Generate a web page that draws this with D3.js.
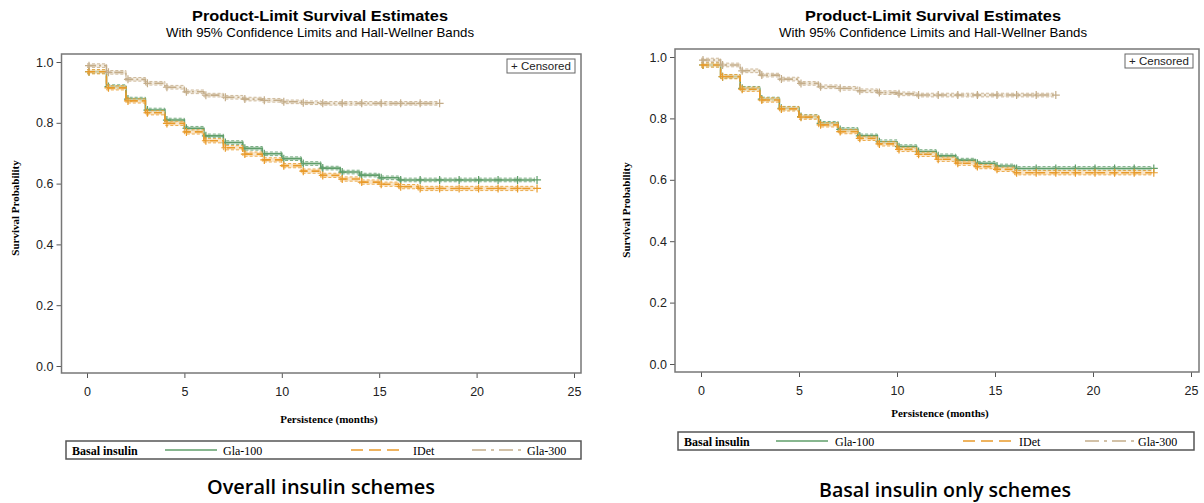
<!DOCTYPE html>
<html>
<head>
<meta charset="utf-8">
<script src="https://cdn.jsdelivr.net/npm/d3@7"></script>
<style>
  body { margin: 0; background: #fff; }
  svg { display: block; }
</style>
</head>
<body>
<svg id="chart" width="1204" height="503"></svg>
<script>
// survival estimate per month interval [k, k+1)
var overallGla100 = [0.968,0.919,0.878,0.842,0.809,0.782,0.757,0.735,0.716,0.698,0.682,0.666,0.651,0.638,0.628,0.619,0.612,0.612,0.612,0.612,0.612,0.612,0.612];
var overallIDet   = [0.968,0.915,0.872,0.833,0.798,0.770,0.741,0.718,0.697,0.678,0.659,0.641,0.627,0.615,0.605,0.598,0.590,0.584,0.584,0.584,0.584,0.584,0.584];
var overallGla300 = [0.988,0.966,0.943,0.930,0.917,0.902,0.891,0.884,0.878,0.874,0.869,0.866,0.864,0.864,0.864,0.864,0.864,0.864];

var basalGla100 = [0.974,0.936,0.898,0.863,0.833,0.806,0.784,0.764,0.743,0.724,0.708,0.692,0.678,0.664,0.654,0.645,0.637,0.637,0.637,0.637,0.637,0.637,0.637];
var basalIDet   = [0.974,0.936,0.895,0.860,0.831,0.804,0.779,0.757,0.735,0.717,0.699,0.683,0.667,0.654,0.643,0.634,0.623,0.623,0.623,0.623,0.623,0.623,0.623];
var basalGla300 = [0.990,0.974,0.955,0.941,0.928,0.914,0.903,0.898,0.890,0.884,0.880,0.876,0.876,0.876,0.876,0.876,0.876,0.876];

// half width of the confidence limits for Gla-100, IDet, Gla-300
var ciHalf = [0.006, 0.007, 0.006];

var seriesNames = ["Gla-100", "IDet", "Gla-300"];
var seriesColors = ["#5f9e6a", "#e99b2b", "#c4ad8a"];
var seriesFill = ["#cfe3d2", "#f8dcb2", "#ece2d2"];
var seriesDash = [null, "8,4", "9,3,2,3"];

var xTicks = [0, 5, 10, 15, 20, 25];
var yTicks = [0.0, 0.2, 0.4, 0.6, 0.8, 1.0];

var svg = d3.select("#chart");

function drawPanel(p) {
        var x = d3.scaleLinear().domain([0, 25]).range([p.x0, p.x25]);
        var y = d3.scaleLinear().domain([0, 1]).range([p.y0, p.y1]);
        var g = svg.append("g");

        // titles
        g.append("text").attr("x", p.cx).attr("y", 21)
                .attr("text-anchor", "middle")
                .attr("textLength", 256).attr("lengthAdjust", "spacingAndGlyphs")
                .style("font", "bold 15px 'Liberation Sans', Arial, sans-serif")
                .text("Product-Limit Survival Estimates");
        g.append("text").attr("x", p.cx).attr("y", 36.5)
                .attr("text-anchor", "middle")
                .attr("textLength", 308).attr("lengthAdjust", "spacingAndGlyphs")
                .style("font", "13px 'Liberation Sans', Arial, sans-serif")
                .text("With 95% Confidence Limits and Hall-Wellner Bands");

        // axes
        var xAxis = d3.axisBottom(x).tickValues(xTicks).tickSize(5).tickFormat(d3.format("d"));
        var yAxis = d3.axisLeft(y).tickValues(yTicks).tickSize(5).tickFormat(d3.format(".1f"));

        var gx = g.append("g").attr("transform", "translate(0," + p.bottom + ")").call(xAxis);
        var gy = g.append("g").attr("transform", "translate(" + p.left + ",0)").call(yAxis);
        [gx, gy].forEach(function(a) {
                a.select(".domain").remove();
                a.selectAll("line").attr("stroke", "#555");
                a.selectAll("text").attr("fill", "#222")
                        .style("font", "12.5px 'Liberation Sans', Arial, sans-serif");
        });
        gx.selectAll("text").attr("dy", "1.2em");
        gy.selectAll("text").attr("x", -8);

        g.append("rect").attr("x", p.left).attr("y", p.top)
                .attr("width", p.right - p.left).attr("height", p.bottom - p.top)
                .attr("fill", "none").attr("stroke", "#777").attr("stroke-width", 1.5);

        // series
        p.data.forEach(function(vals, i) {
                var pts = vals.map(function(v, k) { return [k, v]; });
                pts.push([vals.length, vals[vals.length - 1]]);

                var band = d3.area().curve(d3.curveStepAfter)
                        .x(function(d) { return x(d[0]); })
                        .y0(function(d) { return y(d[1] - ciHalf[i]); })
                        .y1(function(d) { return y(d[1] + ciHalf[i]); });
                g.append("path").datum(pts).attr("d", band)
                        .attr("fill", seriesFill[i]).attr("opacity", 0.7);

                [-1, 1].forEach(function(s) {
                        var lim = d3.line().curve(d3.curveStepAfter)
                                .x(function(d) { return x(d[0]); })
                                .y(function(d) { return y(d[1] + s * ciHalf[i]); });
                        g.append("path").datum(pts).attr("d", lim)
                                .attr("fill", "none").attr("stroke", seriesColors[i])
                                .attr("stroke-width", 1).attr("stroke-dasharray", "3,2")
                                .attr("opacity", 0.8);
                });

                var line = d3.line().curve(d3.curveStepAfter)
                        .x(function(d) { return x(d[0]); })
                        .y(function(d) { return y(d[1]); });
                g.append("path").datum(pts).attr("d", line)
                        .attr("fill", "none").attr("stroke", seriesColors[i])
                        .attr("stroke-width", 1.6)
                        .attr("stroke-dasharray", seriesDash[i]);

                // censored marks at each month
                g.selectAll(null).data(pts).enter().append("path")
                        .attr("d", function(d) {
                                var cx = x(d[0]) + 2, cy = y(d[1]);
                                return "M" + (cx - 4) + "," + cy + "H" + (cx + 4) +
                                        "M" + cx + "," + (cy - 4) + "V" + (cy + 4);
                        })
                        .attr("stroke", seriesColors[i]).attr("stroke-width", 1.2);
        });

        // censored key
        g.append("rect").attr("x", p.right - 74).attr("y", p.top + 5)
                .attr("width", 68).attr("height", 14)
                .attr("fill", "#fff").attr("stroke", "#666").attr("stroke-width", 1);
        g.append("text").attr("x", p.right - 40).attr("y", p.top + 16)
                .attr("text-anchor", "middle")
                .style("font", "11.5px 'Liberation Sans', Arial, sans-serif").attr("fill", "#222")
                .text("+ Censored");

        // axis labels
        g.append("text")
                .attr("transform", "translate(" + p.ylabX + "," + p.ylabY + ") rotate(-90)")
                .attr("text-anchor", "middle")
                .style("font", "bold 11px 'Liberation Serif', 'Times New Roman', serif")
                .text("Survival Probability");
        g.append("text").attr("x", p.xlabX).attr("y", p.xlabY)
                .attr("text-anchor", "middle")
                .style("font", "bold 11px 'Liberation Serif', 'Times New Roman', serif")
                .text("Persistence (months)");

        // legend
        var L = p.legend;
        g.append("rect").attr("x", L.x).attr("y", L.y).attr("width", L.w).attr("height", 18)
                .attr("fill", "#fff").attr("stroke", "#555").attr("stroke-width", 1.5);
        g.append("text").attr("x", L.x + 6).attr("y", L.y + 13.5)
                .style("font", "bold 12px 'Liberation Serif', 'Times New Roman', serif")
                .text("Basal insulin");
        seriesNames.forEach(function(name, i) {
                var lx = L.items[i];
                g.append("line").attr("x1", lx).attr("x2", lx + 52)
                        .attr("y1", L.y + 9).attr("y2", L.y + 9)
                        .attr("stroke", seriesColors[i]).attr("stroke-width", 1.6)
                        .attr("stroke-dasharray", i == 1 ? "12,6" : (i == 2 ? "14,5,3,5" : null));
                g.append("text").attr("x", lx + L.gap[i]).attr("y", L.y + 13.5)
                        .style("font", "12px 'Liberation Serif', 'Times New Roman', serif")
                        .text(name);
        });

        g.append("text").attr("x", p.capX).attr("y", p.capY)
                .attr("text-anchor", "middle")
                .attr("textLength", p.capW).attr("lengthAdjust", "spacingAndGlyphs")
                .style("font", "600 19px 'Open Sans', sans-serif")
                .text(p.caption);
}

drawPanel({
        data: [overallGla100, overallIDet, overallGla300],
        x0: 87, x25: 574, y0: 366, y1: 62,
        left: 61.5, right: 581, top: 54, bottom: 373,
        cx: 320, ylabX: 19, ylabY: 208, xlabX: 329, xlabY: 423,
        legend: { x: 66, y: 441, w: 515, items: [165, 351, 472], gap: [58, 62, 55] },
        capX: 321, capY: 494, capW: 228, caption: "Overall insulin schemes"
});

drawPanel({
        data: [basalGla100, basalIDet, basalGla300],
        x0: 701, x25: 1191, y0: 364, y1: 57,
        left: 675, right: 1199, top: 49, bottom: 372,
        cx: 933, ylabX: 630, ylabY: 210, xlabX: 940, xlabY: 417,
        legend: { x: 678, y: 432, w: 516, items: [776, 963, 1085], gap: [59, 56, 53] },
        capX: 945, capY: 497, capW: 252, caption: "Basal insulin only schemes"
});
</script>
</body>
</html>
